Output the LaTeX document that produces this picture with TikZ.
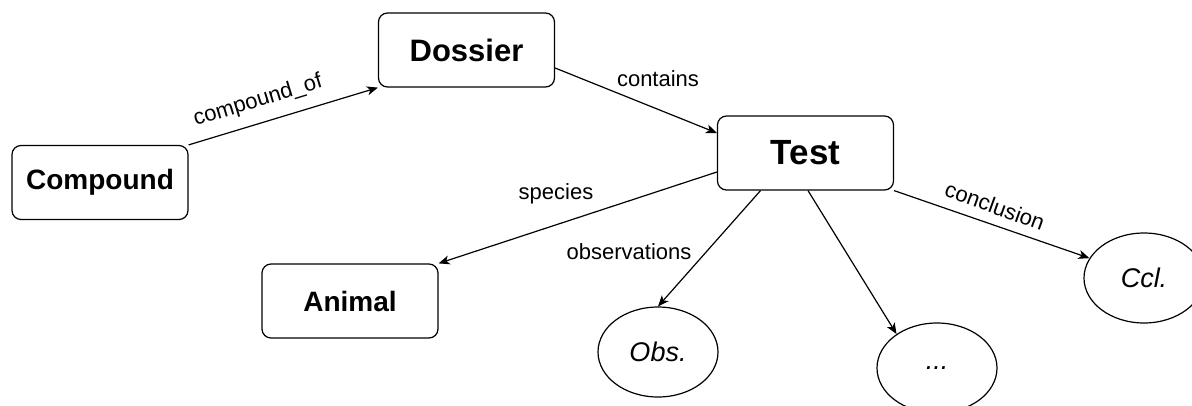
\documentclass[tikz,border=0pt]{standalone}
\usepackage{fontspec}
\setmainfont{Liberation Sans}
\usetikzlibrary{shapes.geometric,arrows.meta,calc}
\begin{document}
\begin{tikzpicture}[x=1pt,y=-1pt,
  box/.style={draw=black,line width=1.2pt,rounded corners=9pt,minimum width=176pt,minimum height=74pt,inner sep=0pt,font=\bfseries},
  ell/.style={draw=black,line width=1.2pt,ellipse,minimum width=120pt,minimum height=90pt,inner sep=0pt,font=\itshape\fontsize{27}{32}\selectfont},
  lbl/.style={inner sep=0pt,font=\fontsize{22}{26}\selectfont},
  arr/.style={draw=black,line width=1.2pt,-{Stealth[length=11pt,width=9pt,inset=3pt]}}]
\useasboundingbox (0,0) rectangle (1192,405);
\clip (0,0) rectangle (1192,405);
\fill[white] (0,0) rectangle (1192,405);
\node[box,font=\bfseries\fontsize{28}{34}\selectfont] (compound) at (100,182.5) {Compound};
\node[box,font=\bfseries\fontsize{31}{37}\selectfont] (dossier) at (466.5,50) {Dossier};
\node[box,font=\bfseries\fontsize{35}{42}\selectfont] (test) at (805.5,153) {Test};
\node[box,font=\bfseries\fontsize{28}{34}\selectfont] (animal) at (350,301) {Animal};
\node[ell] (obs) at (658,352) {Obs.};
\node[ell] (dots) at (937,368) {...};
\node[ell] (ccl) at (1144,278) {Ccl.};
\draw[arr] (compound.north east) -- (dossier.south west);
\draw[arr] ($(dossier.east)+(0,18)$) -- ($(test.west)+(0,-20)$);
\draw[arr] ($(test.west)+(0,19)$) -- (animal.north east);
\draw[arr] ($(test.south)+(-45,0)$) -- (obs.north);
\draw[arr] ($(test.south)+(2.5,0)$) -- (dots.140);
\draw[arr] (test.south east) -- (ccl.160);
\node[lbl,rotate=17] (l1) at (258,101) {compound\_of};
\node[lbl] (l2) at (658,79) {contains};
\node[lbl] (l3) at (556,194) {species};
\node[lbl] (l4) at (629,252) {observations};
\node[lbl,rotate=-20] (l5) at (995,206) {conclusion};
\end{tikzpicture}
\end{document}
